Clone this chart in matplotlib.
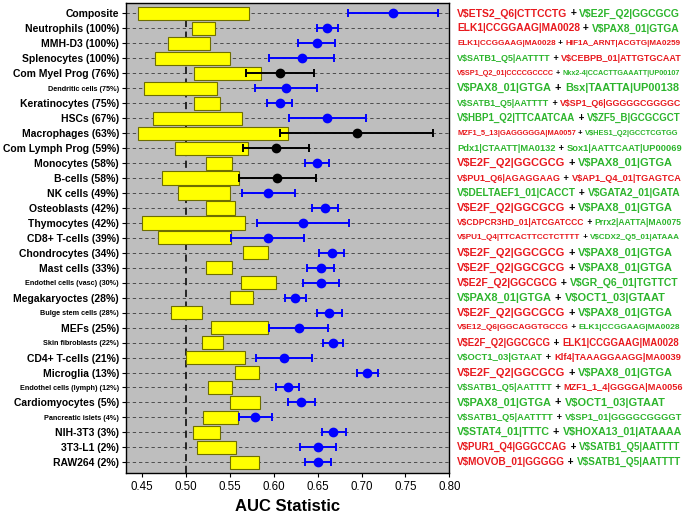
import matplotlib
matplotlib.use('Agg')
import matplotlib.pyplot as plt
import numpy as np

plt.rcParams['font.family'] = ['Liberation Sans', 'DejaVu Sans']

# cell types (top -> bottom)
cells = ['Composite', 'Neutrophils (100%)', 'MMH-D3 (100%)', 'Splenocytes (100%)',
         'Com Myel Prog (76%)', 'Dendritic cells (75%)', 'Keratinocytes (75%)', 'HSCs (67%)',
         'Macrophages (63%)', 'Com Lymph Prog (59%)', 'Monocytes (58%)', 'B-cells (58%)',
         'NK cells (49%)', 'Osteoblasts (42%)', 'Thymocytes (42%)', 'CD8+ T-cells (39%)',
         'Chondrocytes (34%)', 'Mast cells (33%)', 'Endothel cells (vasc) (30%)',
         'Megakaryoctes (28%)', 'Bulge stem cells (28%)', 'MEFs (25%)',
         'Skin fibroblasts (22%)', 'CD4+ T-cells (21%)', 'Microglia (13%)',
         'Endothel cells (lymph) (12%)', 'Cardiomyocytes (5%)', 'Pancreatic islets (4%)',
         'NIH-3T3 (3%)', '3T3-L1 (2%)', 'RAW264 (2%)']
small_label = ['Dendritic cells (75%)', 'Endothel cells (vasc) (30%)', 'Bulge stem cells (28%)',
               'Skin fibroblasts (22%)', 'Endothel cells (lymph) (12%)', 'Pancreatic islets (4%)']

# background (random motif) AUC range -> yellow box
box_lo = [0.445, 0.5065, 0.479, 0.465, 0.509, 0.452, 0.509, 0.462, 0.4457, 0.488, 0.5224,
          0.4727, 0.4906, 0.5232, 0.4495, 0.4685, 0.5645, 0.5232, 0.5622, 0.550, 0.4833,
          0.528, 0.5178, 0.5003, 0.5554, 0.5247, 0.5505, 0.5197, 0.5084, 0.5129, 0.5505]
box_hi = [0.5721, 0.533, 0.527, 0.5505, 0.585, 0.5357, 0.539, 0.564, 0.6166, 0.571, 0.5527,
          0.5607, 0.5505, 0.5562, 0.5668, 0.5516, 0.5937, 0.5524, 0.6021, 0.5763, 0.5182,
          0.5937, 0.5418, 0.5668, 0.5828, 0.5527, 0.5847, 0.5589, 0.539, 0.5566, 0.5832]

# best motif pair AUC with interval
auc = [0.736, 0.661, 0.6496, 0.632, 0.607, 0.6135, 0.6067, 0.661, 0.6944, 0.6029, 0.649,
       0.604, 0.5934, 0.658, 0.633, 0.593, 0.666, 0.6538, 0.654, 0.6245, 0.6633, 0.6283,
       0.667, 0.6116, 0.7066, 0.6158, 0.6313, 0.5786, 0.6678, 0.6503, 0.650]
auc_lo = [0.685, 0.649, 0.628, 0.594, 0.568, 0.5786, 0.5926, 0.6177, 0.607, 0.565, 0.635,
          0.5607, 0.5634, 0.643, 0.5805, 0.5516, 0.652, 0.6378, 0.6336, 0.6128, 0.649,
          0.5945, 0.6557, 0.5797, 0.6944, 0.603, 0.6158, 0.560, 0.6546, 0.630, 0.6355]
auc_hi = [0.787, 0.673, 0.670, 0.669, 0.646, 0.649, 0.621, 0.7047, 0.7817, 0.640, 0.663,
          0.6477, 0.624, 0.6735, 0.686, 0.6344, 0.680, 0.669, 0.6746, 0.6367, 0.6777,
          0.662, 0.6792, 0.644, 0.719, 0.629, 0.647, 0.5976, 0.6819, 0.6712, 0.665]
signif = [1, 1, 1, 1, 0, 1, 1, 1, 0, 0, 1, 0, 1, 1, 1, 1, 1, 1, 1, 1, 1, 1, 1, 1, 1, 1, 1,
          1, 1, 1, 1]

# motif pairs; colour flag 'r' red / 'g' green
motif1 = ['V$ETS2_Q6|CTTCCTG', 'ELK1|CCGGAAG|MA0028', 'ELK1|CCGGAAG|MA0028',
          'V$SATB1_Q5|AATTTT', 'V$SP1_Q2_01|CCCCGCCCC', 'V$PAX8_01|GTGA',
          'V$SATB1_Q5|AATTTT', 'V$HBP1_Q2|TTCAATCAA', 'MZF1_5_13|GAGGGGGA|MA0057',
          'Pdx1|CTAATT|MA0132', 'V$E2F_Q2|GGCGCG', 'V$PU1_Q6|AGAGGAAG',
          'V$DELTAEF1_01|CACCT', 'V$E2F_Q2|GGCGCG', 'V$CDPCR3HD_01|ATCGATCCC',
          'V$PU1_Q4|TTCACTTCCTCTTTT', 'V$E2F_Q2|GGCGCG', 'V$E2F_Q2|GGCGCG',
          'V$E2F_Q2|GGCGCG', 'V$PAX8_01|GTGA', 'V$E2F_Q2|GGCGCG', 'V$E12_Q6|GGCAGGTGCCG',
          'V$E2F_Q2|GGCGCG', 'V$OCT1_03|GTAAT', 'V$E2F_Q2|GGCGCG', 'V$SATB1_Q5|AATTTT',
          'V$PAX8_01|GTGA', 'V$SATB1_Q5|AATTTT', 'V$STAT4_01|TTTC', 'V$PUR1_Q4|GGGCCAG',
          'V$MOVOB_01|GGGGG']
motif2 = ['V$E2F_Q2|GGCGCG', 'V$PAX8_01|GTGA', 'HIF1A_ARNT|ACGTG|MA0259',
          'V$CEBPB_01|ATTGTGCAAT', 'Nkx2-4|CCACTTGAAATT|UP00107', 'Bsx|TAATTA|UP00138',
          'V$SP1_Q6|GGGGGCGGGGC', 'V$ZF5_B|GCGCGCT', 'V$HES1_Q2|GCCTCGTGG',
          'Sox1|AATTCAAT|UP00069', 'V$PAX8_01|GTGA', 'V$AP1_Q4_01|TGAGTCA',
          'V$GATA2_01|GATA', 'V$PAX8_01|GTGA', 'Prrx2|AATTA|MA0075', 'V$CDX2_Q5_01|ATAAA',
          'V$PAX8_01|GTGA', 'V$PAX8_01|GTGA', 'V$GR_Q6_01|TGTTCT', 'V$OCT1_03|GTAAT',
          'V$PAX8_01|GTGA', 'ELK1|CCGGAAG|MA0028', 'ELK1|CCGGAAG|MA0028',
          'Klf4|TAAAGGAAGG|MA0039', 'V$PAX8_01|GTGA', 'MZF1_1_4|GGGGA|MA0056',
          'V$OCT1_03|GTAAT', 'V$SP1_01|GGGGCGGGGT', 'V$HOXA13_01|ATAAAA',
          'V$SATB1_Q5|AATTTT', 'V$SATB1_Q5|AATTTT']
col1 = ['r', 'r', 'r', 'g', 'r', 'g', 'g', 'g', 'r', 'g', 'r', 'r', 'g', 'r', 'r', 'r',
        'r', 'r', 'r', 'g', 'r', 'r', 'r', 'g', 'r', 'g', 'g', 'g', 'g', 'r', 'r']
col2 = ['g', 'g', 'r', 'r', 'g', 'g', 'r', 'g', 'g', 'g', 'g', 'r', 'g', 'g', 'g', 'g',
        'g', 'g', 'g', 'g', 'g', 'g', 'r', 'r', 'g', 'r', 'g', 'g', 'g', 'g', 'g']

RED = '#e8191e'
GREEN = '#2db52d'
cmap = {'r': RED, 'g': GREEN}

y = np.arange(len(cells))
lo = np.array(box_lo)
hi = np.array(box_hi)
a = np.array(auc)

fig = plt.figure(figsize=(6.85, 5.15), dpi=100)
ax = fig.add_axes([0.184, 0.082, 0.472, 0.913])
ax.set_facecolor('#bebebe')

ax.grid(axis='y', linestyle=(0, (4, 3.5)), color='#3a3a3a', linewidth=0.6)
ax.set_axisbelow(True)
ax.axvline(0.5, color='#1a1a1a', linewidth=1.3, linestyle=(0, (4, 2.5)), zorder=1.5)

ax.barh(y, hi - lo, left=lo, height=0.88, color='#ffff00', edgecolor='#6e6e00',
        linewidth=0.8, zorder=2)

for i in range(len(cells)):
    c = 'blue' if signif[i] else 'black'
    ax.errorbar(a[i], y[i], xerr=[[auc[i] - auc_lo[i]], [auc_hi[i] - auc[i]]], fmt='o',
                color=c, ms=6, capsize=2.6, elinewidth=1.4, capthick=1.4, zorder=3)

ax.set_xlim(0.4317, 0.80)
ax.set_ylim(len(cells) - 1 + 0.7, -0.73)
ax.set_xticks(np.arange(0.45, 0.801, 0.05))
ax.set_xticklabels(['%.2f' % v for v in np.arange(0.45, 0.801, 0.05)], fontsize=8.3)
ax.set_yticks(y)
ax.set_yticklabels(cells, fontweight='bold')
for lab in ax.get_yticklabels():
    lab.set_fontsize(5.2 if lab.get_text() in small_label else 7.5)
ax.tick_params(axis='y', length=3, width=0.8, pad=2)
ax.tick_params(axis='x', length=3, width=0.8, pad=3)
for s in ax.spines.values():
    s.set_linewidth(1.0)
ax.set_xlabel('AUC Statistic', fontsize=12, fontweight='bold', labelpad=4)

# motif pair labels to the right of the axes
rows = []
for i in range(len(cells)):
    t1 = ax.annotate(motif1[i], xy=(1, y[i]), xycoords=('axes fraction', 'data'),
                     xytext=(5.8, 0), textcoords='offset points', va='center', ha='left',
                     color=cmap[col1[i]], fontweight='bold', fontsize=8, annotation_clip=False)
    t2 = ax.annotate(' + ', xy=(1, 0.5), xycoords=t1, va='center', ha='left',
                     color='black', fontweight='bold', fontsize=8)
    t3 = ax.annotate(motif2[i], xy=(1, 0.5), xycoords=t2, va='center', ha='left',
                     color=cmap[col2[i]], fontweight='bold', fontsize=8)
    rows.append((t1, t2, t3))

# shrink each row so it fits the space right of the axes
fig.canvas.draw()
r = fig.canvas.get_renderer()
target = 224.0
for t1, t2, t3 in rows:
    w = t3.get_window_extent(r).x1 - t1.get_window_extent(r).x0
    fs = min(7.9, 8 * target / w)
    for t in (t1, t2, t3):
        t.set_fontsize(fs)

fig.savefig('out.png', dpi=100)
